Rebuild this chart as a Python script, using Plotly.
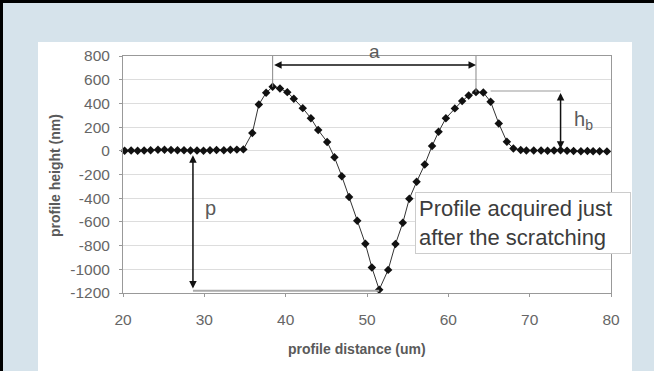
import plotly.graph_objects as go

# ---- data ----
distance_um = [20.2, 21.0, 21.8, 22.6, 23.4, 24.3, 25.1, 25.9, 26.7, 27.5, 28.3, 29.1, 29.9,
               30.7, 31.5, 32.4, 33.2, 34.0, 34.8,
               35.9, 36.7, 37.6, 38.4, 39.3, 40.2, 41.0, 42.1, 43.1, 44.0, 45.1, 46.0, 46.9,
               47.8, 48.8, 49.8, 50.6, 51.5, 52.6, 53.5, 54.4, 55.2, 56.1, 57.1, 58.0, 58.8,
               59.7, 60.8, 61.7, 62.5, 63.4, 64.3, 65.2, 66.2, 67.2, 68.0, 68.9,
               69.6, 70.5, 71.4, 72.2, 73.0, 73.8, 74.6, 75.4, 76.3, 77.1, 77.8, 78.6, 79.5]
height_nm = [0, 2, 0, 3, 5, 8, 8, 6, 5, 4, 3, 2, 0,
             4, 6, 5, 8, 10, 12,
             150, 390, 490, 540, 525, 495, 440, 360, 275, 175, 75, -55, -214,
             -390, -590, -785, -985, -1172, -1005, -787, -608, -405, -262, -115, 40, 160,
             275, 358, 421, 466, 495, 492, 414, 231, 76, 20, 6,
             3, 2, 2, 0, 2, 5, 0, -2, -3, -2, -3, -4, -5]

x_ticks = [20, 30, 40, 50, 60, 70, 80]
x_tick_labels = ["20", "30", "40", "50", "60", "70", "80"]
y_ticks = [-1200, -1000, -800, -600, -400, -200, 0, 200, 400, 600, 800]
y_tick_labels = ["-1200", "-1000", "-800", "-600", "-400", "-200", "0", "200", "400", "600", "800"]

note_text = "Profile acquired just<br>after the scratching"

# ---- derived feature positions from the data ----
left = [(x, y) for x, y in zip(distance_um, height_nm) if x < 45]
right = [(x, y) for x, y in zip(distance_um, height_nm) if x > 55]
lp = max(left, key=lambda t: t[1])
rp = max(right, key=lambda t: t[1])
mn = min(zip(distance_um, height_nm), key=lambda t: t[1])

# ---- geometry helpers (pixel -> paper) ----
W, H = 654, 371
PL, PR, PT, PB = 123, 611, 56, 293
def px(x):
    return (x - PL) / (PR - PL)
def py(y):
    return (PB - y) / (PB - PT)

GRAY_TXT = "#5a5a5a"
FONT = "Liberation Sans, Arial"

fig = go.Figure()
fig.add_trace(go.Scatter(
    x=distance_um, y=height_nm, mode="lines+markers",
    line=dict(color="#333333", width=1),
    marker=dict(symbol="diamond", size=6.5, color="#111111"),
    cliponaxis=False, showlegend=False))

shapes = []
# white panel
shapes.append(dict(type="rect", xref="paper", yref="paper", x0=px(38), x1=px(632), y0=py(42), y1=py(371),
                   fillcolor="white", line=dict(width=0), layer="below"))
# black image border (top and left)
shapes.append(dict(type="rect", xref="paper", yref="paper", x0=px(0), x1=px(3), y0=py(0), y1=py(371),
                   fillcolor="black", line=dict(width=0), layer="below"))
shapes.append(dict(type="rect", xref="paper", yref="paper", x0=px(0), x1=px(654), y0=py(0), y1=py(3),
                   fillcolor="black", line=dict(width=0), layer="below"))
# vertical reference lines from the peaks
shapes.append(dict(type="line", xref="x", yref="y", x0=lp[0], x1=lp[0], y0=lp[1], y1=820,
                   line=dict(color="#888888", width=1)))
shapes.append(dict(type="line", xref="x", yref="y", x0=rp[0], x1=rp[0], y0=rp[1], y1=820,
                   line=dict(color="#888888", width=1)))
# horizontal reference for h_b
shapes.append(dict(type="line", xref="x", yref="y", x0=rp[0] + 1.8, x1=73.8, y0=rp[1] + 10, y1=rp[1] + 10,
                   line=dict(color="#bbbbbb", width=1.5)))
# horizontal reference for p
shapes.append(dict(type="line", xref="x", yref="y", x0=28.6, x1=mn[0], y0=mn[1] - 8, y1=mn[1] - 8,
                   line=dict(color="#aaaaaa", width=2)))

annotations = []
# a arrow
annotations.append(dict(x=rp[0], y=724, ax=lp[0], ay=724, xref="x", yref="y", axref="x", ayref="y",
                        text="", showarrow=True, arrowhead=2, arrowside="end+start", arrowsize=1,
                        arrowwidth=1.5, arrowcolor="#111111"))
annotations.append(dict(x=(lp[0] + rp[0]) / 2, y=py(51), xref="x", yref="paper", text="a", showarrow=False,
                        xanchor="center", yanchor="middle",
                        font=dict(family=FONT, size=19, color=GRAY_TXT)))
# p arrow
annotations.append(dict(x=28.6, y=mn[1] + 10, ax=28.6, ay=-25, xref="x", yref="y", axref="x", ayref="y",
                        text="", showarrow=True, arrowhead=2, arrowside="end+start", arrowsize=1,
                        arrowwidth=1.5, arrowcolor="#111111"))
annotations.append(dict(x=30.8, y=-480, xref="x", yref="y", text="p", showarrow=False,
                        xanchor="center", yanchor="middle",
                        font=dict(family=FONT, size=20, color=GRAY_TXT)))
# h_b arrow
annotations.append(dict(x=73.8, y=18, ax=73.8, ay=rp[1] + 5, xref="x", yref="y", axref="x", ayref="y",
                        text="", showarrow=True, arrowhead=2, arrowside="end+start", arrowsize=1,
                        arrowwidth=1.5, arrowcolor="#111111"))
annotations.append(dict(x=76.6, y=255, xref="x", yref="y", text="h<sub>b</sub>", showarrow=False,
                        xanchor="center", yanchor="middle",
                        font=dict(family=FONT, size=20, color=GRAY_TXT)))
# note box
annotations.append(dict(x=px(415), y=py(192), xref="paper", yref="paper", xanchor="left", yanchor="top",
                        text=note_text, showarrow=False, align="left", width=208, height=54,
                        bgcolor="white", bordercolor="#cccccc", borderwidth=1, borderpad=3,
                        font=dict(family=FONT, size=22, color="#3c3c3c")))
# axis titles
annotations.append(dict(x=px(357), y=py(349), xref="paper", yref="paper", text="<b>profile distance (um)</b>",
                        showarrow=False, xanchor="center", yanchor="middle",
                        font=dict(family=FONT, size=14, color=GRAY_TXT)))
annotations.append(dict(x=px(55), y=py(176), xref="paper", yref="paper", text="<b>profile height (nm)</b>",
                        showarrow=False, textangle=-90, xanchor="center", yanchor="middle",
                        font=dict(family=FONT, size=14, color=GRAY_TXT)))

fig.update_layout(
    width=W, height=H,
    margin=dict(l=PL, r=W - PR, t=PT, b=H - PB, pad=0),
    paper_bgcolor="#d6e3eb", plot_bgcolor="white",
    shapes=shapes, annotations=annotations,
    font=dict(family=FONT, color=GRAY_TXT),
)
fig.update_xaxes(range=[20, 80], tickvals=x_ticks, ticktext=x_tick_labels, showgrid=False,
                 showline=True, mirror=True, linecolor="#999999", linewidth=1,
                 ticks="outside", ticklen=3, tickcolor="#999999", ticklabelstandoff=9,
                 tickfont=dict(size=15.5, color="#666666"), zeroline=False)
fig.update_yaxes(range=[-1200, 800], tickvals=y_ticks, ticktext=y_tick_labels, showgrid=True,
                 gridcolor="#dddddd", gridwidth=1,
                 showline=True, mirror=True, linecolor="#999999", linewidth=1,
                 ticks="outside", ticklen=3, tickcolor="#999999", ticklabelstandoff=6,
                 tickfont=dict(size=15.5, color="#666666"), zeroline=False)

fig.write_html("out.html")
